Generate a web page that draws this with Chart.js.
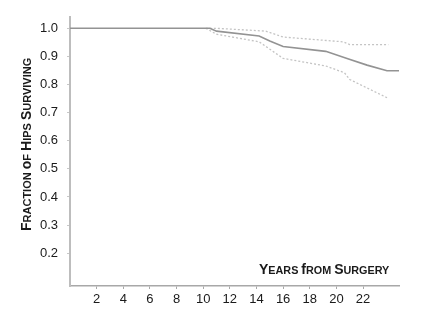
<!DOCTYPE html>
<html>
<head>
<meta charset="utf-8">
<script src="https://cdn.jsdelivr.net/npm/chart.js@4/dist/chart.umd.min.js"></script>
<style>
  html, body { margin: 0; padding: 0; background: #fff; }
  #wrap { width: 432px; height: 313px; }
</style>
</head>
<body>
<div id="wrap"><canvas id="survChart" width="432" height="313"></canvas></div>
<script>
// survival curve (years, fraction)
const survYears  = [0, 10.5, 11.0, 14.2, 15.0, 16.0, 19.2, 20.8, 22.3, 23.8, 24.7];
const survValues = [1.0, 1.0, 0.99, 0.973, 0.955, 0.935, 0.918, 0.893, 0.869, 0.849, 0.849];

// upper confidence limit
const upperYears  = [10.2, 11.0, 14.7, 16.0, 20.5, 21.0, 23.9];
const upperValues = [1.0, 1.0, 0.99, 0.969, 0.952, 0.942, 0.942];

// lower confidence limit
const lowerYears  = [10.2, 11.0, 14.2, 16.0, 19.2, 20.6, 21.0, 23.8];
const lowerValues = [1.0, 0.979, 0.952, 0.893, 0.866, 0.842, 0.818, 0.753];

const xTicks = [2, 4, 6, 8, 10, 12, 14, 16, 18, 20, 22];
const yTicks = [0.2, 0.3, 0.4, 0.5, 0.6, 0.7, 0.8, 0.9, 1.0];

const toPoints = (xs, ys) => xs.map((x, i) => ({ x: x, y: ys[i] }));

// draws "Small Caps" style text: first letter of each word larger
function drawSmallCaps(ctx, text, x, y, big, small) {
  let cx = x;
  text.split(' ').forEach((word, wi) => {
    if (wi > 0) {
      ctx.font = 'bold ' + small + 'px "Liberation Sans", Arial, sans-serif';
      cx += ctx.measureText(' ').width;
    }
    ctx.font = 'bold ' + big + 'px "Liberation Sans", Arial, sans-serif';
    ctx.fillText(word[0], cx, y);
    cx += ctx.measureText(word[0]).width;
    ctx.font = 'bold ' + small + 'px "Liberation Sans", Arial, sans-serif';
    ctx.fillText(word.slice(1).toUpperCase(), cx, y);
    cx += ctx.measureText(word.slice(1).toUpperCase()).width;
  });
  return cx - x;
}

const titlesPlugin = {
  id: 'titles',
  afterDraw(chart) {
    const ctx = chart.ctx;
    ctx.save();
    ctx.fillStyle = '#1a1a1a';
    ctx.textBaseline = 'alphabetic';
    // x title inside plot area
    drawSmallCaps(ctx, 'Years from Surgery', 259, 274, 14, 10.8);
    // y title rotated
    ctx.translate(31, 231);
    ctx.rotate(-Math.PI / 2);
    drawSmallCaps(ctx, 'Fraction of Hips Surviving', 0, 0, 14, 11);
    ctx.restore();
  }
};

new Chart(document.getElementById('survChart'), {
  type: 'line',
  data: {
    datasets: [
      {
        label: 'Survival',
        data: toPoints(survYears, survValues),
        borderColor: '#939393',
        borderWidth: 1.6,
        pointRadius: 0,
        tension: 0
      },
      {
        label: 'Upper',
        data: toPoints(upperYears, upperValues),
        borderColor: '#c4c4c4',
        borderWidth: 1.3,
        borderDash: [2, 2],
        pointRadius: 0,
        tension: 0
      },
      {
        label: 'Lower',
        data: toPoints(lowerYears, lowerValues),
        borderColor: '#c4c4c4',
        borderWidth: 1.3,
        borderDash: [2, 2],
        pointRadius: 0,
        tension: 0
      }
    ]
  },
  options: {
    responsive: false,
    animation: false,
    layout: { padding: { top: 7, right: 33, left: 0, bottom: 0 } },
    plugins: { legend: { display: false }, tooltip: { enabled: false } },
    scales: {
      x: {
        type: 'linear',
        min: 0,
        max: 24.7,
        afterBuildTicks: (scale) => { scale.ticks = xTicks.map(v => ({ value: v })); },
        afterFit: (scale) => { scale.height = 27; },
        border: { color: '#a8a8a8', width: 1.5 },
        grid: { drawOnChartArea: false, tickLength: 3, color: '#a8a8a8' },
        ticks: {
          color: '#1a1a1a',
          padding: 3,
          maxRotation: 0,
          autoSkip: false,
          font: { family: '"Liberation Sans", Arial, sans-serif', size: 13 }
        }
      },
      y: {
        min: 0.083,
        max: 1.041,
        afterBuildTicks: (scale) => { scale.ticks = yTicks.map(v => ({ value: v })); },
        afterFit: (scale) => { scale.width = 70; },
        border: { color: '#bdbdbd', width: 2 },
        grid: { drawOnChartArea: false, tickLength: 3, color: '#c8c8c8' },
        ticks: {
          color: '#1a1a1a',
          padding: 9,
          autoSkip: false,
          callback: (v) => v.toFixed(1),
          font: { family: '"Liberation Sans", Arial, sans-serif', size: 13 }
        }
      }
    }
  },
  plugins: [titlesPlugin]
});
</script>
</body>
</html>
